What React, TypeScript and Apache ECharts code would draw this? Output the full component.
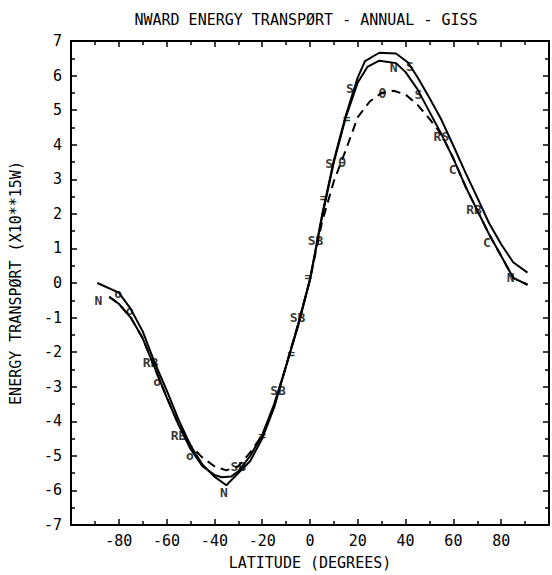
import React, { useEffect, useRef } from "react";
import * as echarts from "echarts";

// Outer solid curve (latitude, transport x10**15 W)
const LAT_A = [-89, -80, -75, -70, -65, -60, -55, -50, -45, -40, -35, -30, -25, -20, -15, -10, -5, 0, 5, 10, 15, 20, 23, 29, 36, 41, 45, 50, 55, 60, 65, 70, 75, 80, 85, 91];
const VAL_A = [0.0, -0.28, -0.75, -1.4, -2.3, -3.1, -3.95, -4.7, -5.25, -5.6, -5.85, -5.5, -5.15, -4.5, -3.6, -2.4, -1.25, 0.1, 1.95, 3.55, 4.85, 5.95, 6.42, 6.66, 6.64, 6.38, 5.95, 5.35, 4.72, 3.97, 3.2, 2.47, 1.72, 1.12, 0.6, 0.3];

// Inner solid curve
const LAT_B = [-84, -80, -75, -70, -65, -60, -55, -50, -45, -40, -37, -33, -30, -25, -20, -15, -10, -5, 0, 5, 10, 15, 20, 24, 29, 36, 40, 45, 50, 55, 60, 65, 70, 75, 80, 85, 91];
const VAL_B = [-0.4, -0.6, -1.0, -1.6, -2.45, -3.3, -4.1, -4.8, -5.3, -5.55, -5.62, -5.6, -5.45, -5.0, -4.4, -3.5, -2.4, -1.2, 0.1, 1.9, 3.5, 4.8, 5.8, 6.25, 6.43, 6.36, 6.1, 5.6, 4.95, 4.3, 3.6, 2.8, 2.1, 1.4, 0.78, 0.15, -0.05];

// Dashed curve
const LAT_D = [-84, -80, -75, -70, -65, -60, -55, -50, -45, -40, -35, -30, -25, -20, -15, -10, -5, 0, 5, 10, 15, 20, 25, 30, 35, 40, 45, 50, 55, 60, 65, 70, 75, 80, 85, 91];
const VAL_D = [-0.4, -0.6, -1.0, -1.6, -2.45, -3.3, -4.1, -4.7, -5.05, -5.3, -5.42, -5.3, -4.9, -4.4, -3.55, -2.4, -1.2, 0.1, 1.75, 2.95, 3.85, 4.8, 5.25, 5.5, 5.56, 5.45, 5.15, 4.75, 4.3, 3.6, 2.8, 2.1, 1.4, 0.78, 0.15, -0.05];

// Letter markers written along the curves
const MARK_LAT = [-88.5, -36, 35, 84, -80.3, -75.5, -63.9, -50.3, -66.7, -55, 68.6, -30, -13.4, -5.2, 2.3, 16.7, 41.8, 45.4, 30.3, 55, 59.7, 74, 8, 13.5, 15.3, 5.7, -0.7, -7.9, -20];
const MARK_VAL = [-0.5, -6.05, 6.22, 0.15, -0.3, -0.8, -2.85, -5.0, -2.29, -4.4, 2.13, -5.3, -3.1, -1.0, 1.22, 5.64, 6.26, 5.44, 5.49, 4.24, 3.28, 1.17, 3.45, 3.5, 4.77, 2.47, 0.18, -2.05, -4.4];
const MARK_TXT = ["N", "N", "N", "N", "o", "o", "o", "o", "RB", "RB", "RB", "SB", "SB", "SB", "SB", "S", "S", "S", "θ", "RS", "C", "C", "S", "θ", "=", "=", "=", "=", "="];

const TITLE = "NWARD ENERGY TRANSPØRT - ANNUAL - GISS";
const X_NAME = "LATITUDE (DEGREES)";
const Y_NAME = "ENERGY TRANSPØRT (X10**15W)";

const FONT = "DejaVu Sans Mono";

const zip = (xs: number[], ys: number[]) => xs.map((x, i) => [x, ys[i]]);

export default function App() {
  const ref = useRef<HTMLDivElement>(null);
  useEffect(() => {
    if (!ref.current) return;
    const chart = echarts.init(ref.current, undefined, { renderer: "svg" });
    const axisLine = { show: true, onZero: false, lineStyle: { color: "#000", width: 2 } };
    const xCommon = {
      type: "value" as const,
      min: -100,
      max: 100,
      interval: 20,
      splitLine: { show: false },
      axisLine,
      axisTick: { show: true, inside: true, length: 6, lineStyle: { color: "#000", width: 1.5 } },
      minorTick: { show: true, splitNumber: 2, length: 4, lineStyle: { color: "#000", width: 1.5 } },
    };
    const yCommon = {
      type: "value" as const,
      min: -7,
      max: 7,
      interval: 1,
      splitLine: { show: false },
      axisLine,
      axisTick: { show: true, inside: true, length: 6, lineStyle: { color: "#000", width: 1.5 } },
      minorTick: { show: true, splitNumber: 2, length: 4, lineStyle: { color: "#000", width: 1.5 } },
    };
    const lineStyleBase = { color: "#000", width: 2 };
    chart.setOption({
      animation: false,
      backgroundColor: "#fff",
      grid: { left: 63, right: 2, top: 41, bottom: 48, containLabel: false },
      graphic: [
        {
          type: "text",
          x: 306,
          y: 20,
          style: {
            text: TITLE,
            textAlign: "center",
            textVerticalAlign: "middle",
            fontFamily: FONT,
            fontSize: 15,
            fill: "#000",
          },
        },
      ],
      xAxis: [
        {
          ...xCommon,
          position: "bottom",
          name: X_NAME,
          nameLocation: "middle",
          nameGap: 30,
          nameTextStyle: { fontFamily: FONT, fontSize: 15, color: "#000" },
          axisLabel: {
            show: true,
            margin: 8,
            fontFamily: FONT,
            fontSize: 15,
            color: "#000",
            formatter: (v: number) => (Math.abs(v) === 100 ? "" : String(v)),
          },
        },
        { ...xCommon, position: "top", axisLabel: { show: false } },
      ],
      yAxis: [
        {
          ...yCommon,
          position: "left",
          name: Y_NAME,
          nameLocation: "middle",
          nameGap: 48,
          nameRotate: 90,
          nameTextStyle: { fontFamily: FONT, fontSize: 15, color: "#000" },
          axisLabel: { show: true, margin: 9, fontFamily: FONT, fontSize: 15, color: "#000" },
        },
        { ...yCommon, position: "right", axisLabel: { show: false } },
      ],
      series: [
        {
          type: "line",
          data: zip(LAT_A, VAL_A),
          showSymbol: false,
          symbol: "none",
          lineStyle: lineStyleBase,
          z: 3,
        },
        {
          type: "line",
          data: zip(LAT_B, VAL_B),
          showSymbol: false,
          symbol: "none",
          lineStyle: lineStyleBase,
          z: 3,
        },
        {
          type: "line",
          data: zip(LAT_D, VAL_D),
          showSymbol: false,
          symbol: "none",
          lineStyle: { ...lineStyleBase, type: [9, 6] },
          z: 3,
        },
        {
          type: "scatter",
          data: MARK_LAT.map((x, i) => [x, MARK_VAL[i], MARK_TXT[i]]),
          symbolSize: 0,
          silent: true,
          z: 4,
          label: {
            show: true,
            position: "inside",
            formatter: (p: any) => p.data[2],
            fontFamily: FONT,
            fontSize: 13,
            fontWeight: "bold",
            color: "#000",
            textBorderWidth: 0,
          },
        },
      ],
    });
    return () => chart.dispose();
  }, []);
  return (
    <div
      ref={ref}
      style={{ position: "fixed", left: 0, top: 0, width: 552, height: 575, background: "#fff" }}
    />
  );
}
